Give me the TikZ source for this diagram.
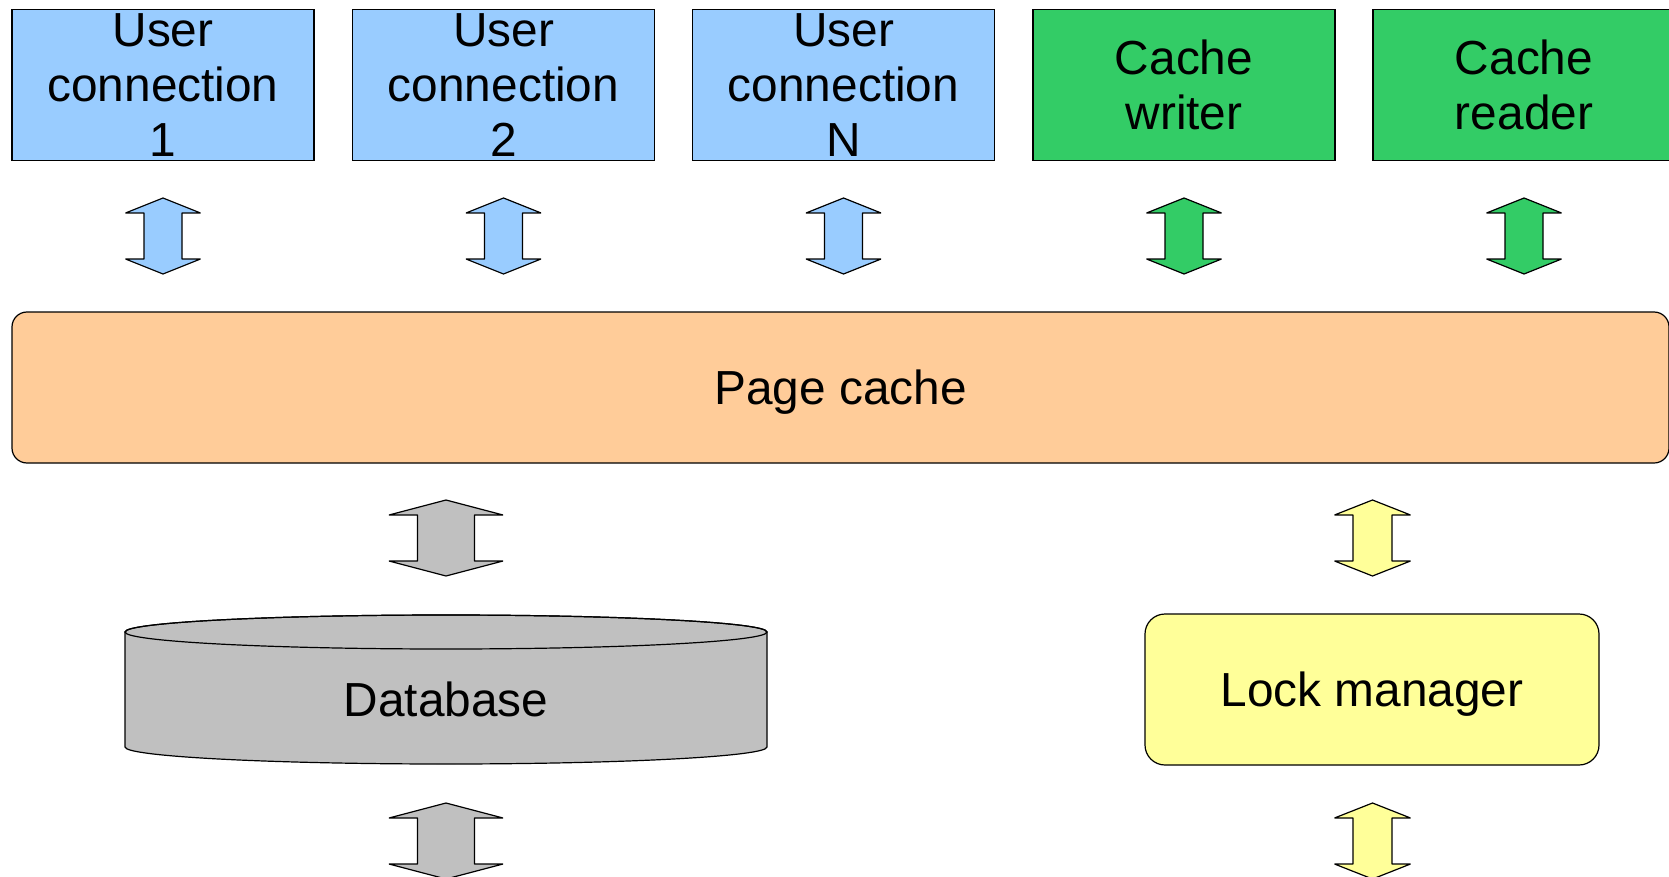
\documentclass[tikz,border=0pt]{standalone}
\usepackage{fontspec}
\setmainfont{Liberation Sans}
\definecolor{userblue}{HTML}{99CCFF}
\definecolor{cachegreen}{HTML}{33CC66}
\definecolor{pageorange}{HTML}{FFCC99}
\definecolor{dbgray}{HTML}{C0C0C0}
\definecolor{lockyellow}{HTML}{FFFF99}
\tikzset{
  box/.style={draw, minimum width=302pt, minimum height=151pt},
}
% up/down block arrow: fill, x, top, half head, half shaft
\newcommand{\updown}[5]{%
  \draw[fill=#1, line join=bevel] (#2,#3) -- (#2+#4,#3+15) -- (#2+#5,#3+15) -- (#2+#5,#3+61)
    -- (#2+#4,#3+61) -- (#2,#3+76) -- (#2-#4,#3+61) -- (#2-#5,#3+61)
    -- (#2-#5,#3+15) -- (#2-#4,#3+15) -- cycle;}
\begin{document}
\begin{tikzpicture}[x=1pt, y=-1pt, line width=1.2pt,
    every node/.style={font=\fontsize{47.8}{55}\selectfont, inner sep=0pt,
      align=center, text depth=0pt}]
        \clip (0,0) rectangle (1669,877);
        % top row
        \node[box, fill=userblue] (u1) at (163,85) {User\\connection\\1};
        \node[box, fill=userblue] (u2) at (503.5,85) {User\\connection\\2};
        \node[box, fill=userblue] (uN) at (843.5,85) {User\\connection\\N};
        \node[box, fill=cachegreen] (cw) at (1184,85) {Cache\\writer};
        \node[box, fill=cachegreen] (cr) at (1524,85) {Cache\\reader};
        \foreach \x/\c in {163/userblue,503.5/userblue,843.5/userblue,1184/cachegreen,1524/cachegreen} {
            \updown{\c}{\x}{198}{37.5}{19}
        }
        % page cache
        \node[draw, fill=pageorange, rounded corners=15pt, minimum width=1657pt,
            minimum height=151pt] (pc) at (840.5,387.5) {Page cache};
        \updown{dbgray}{446}{500}{57}{28.5}
        \updown{lockyellow}{1372.5}{500}{38}{19.5}
        % database
        \draw[fill=dbgray] (125,632) -- (125,747)
            arc[start angle=180, end angle=0, x radius=321, y radius=17]
            -- (767,632) arc[start angle=0, end angle=-180, x radius=321, y radius=17] -- cycle;
        \draw (446,632) ellipse [x radius=321, y radius=17];
        \node (db) at (446,699.5) {Database};
        % lock manager
        \node[draw, fill=lockyellow, rounded corners=20pt, minimum width=454pt,
            minimum height=151pt] (lm) at (1372,689.5) {Lock manager};
        \updown{dbgray}{446}{803}{57}{28.5}
        \updown{lockyellow}{1372.5}{803}{38}{19.5}
\end{tikzpicture}
\end{document}
